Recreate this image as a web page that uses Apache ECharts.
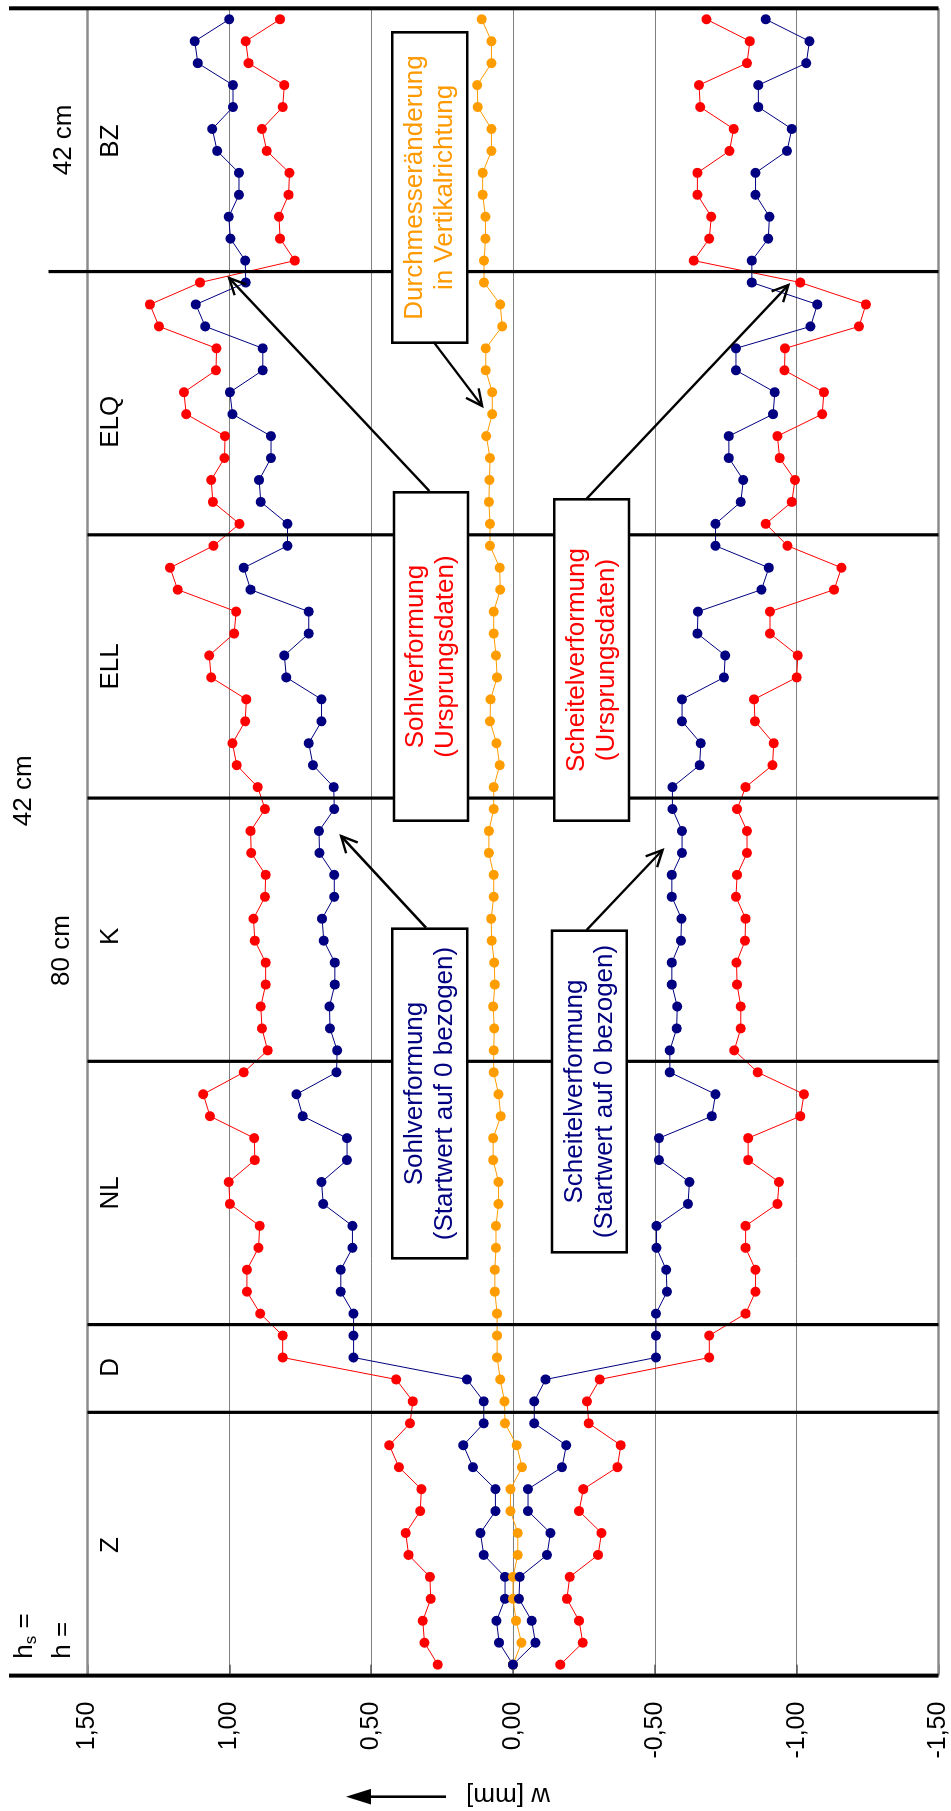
<!DOCTYPE html>
<html><head><meta charset="utf-8">
<script src="https://cdn.jsdelivr.net/npm/echarts@6/dist/echarts.min.js"></script>
<style>
html,body{margin:0;padding:0;background:#fff;overflow:hidden;width:951px;height:1811px;}
#chart{position:absolute;left:0;top:0;width:1811px;height:951px;transform-origin:0 0;transform:translate(0,1811px) rotate(-90deg);}
</style></head><body><div id="chart"></div>
<script>
// ---------- DATA ----------
const sectionNames  = ['Z','D','NL','K','ELL','ELQ','BZ'];
const sectionCounts = [12, 4, 12, 12, 12, 12, 12];
const valueTicks = [-1.5, -1.0, -0.5, 0, 0.5, 1.0, 1.5];

const sohlUrsprung = [0.265,0.312,0.318,0.290,0.293,0.368,0.378,0.327,0.323,0.402,0.436,0.363,
  0.353,0.412,0.812,0.812,
  0.891,0.938,0.938,0.897,0.893,0.998,1.002,0.910,0.912,1.068,1.092,0.949,
  0.865,0.885,0.889,0.872,0.872,0.910,0.915,0.874,0.872,0.923,0.925,0.874,
  0.900,0.974,0.989,0.944,0.940,1.064,1.071,0.983,0.976,1.182,1.209,1.056,
  0.964,1.058,1.064,1.017,1.015,1.152,1.160,1.047,1.045,1.248,1.280,1.103,
  0.769,0.821,0.825,0.791,0.788,0.868,0.885,0.812,0.806,0.932,0.942,0.821];
const sohlBezogen = [0.000,0.049,0.058,0.028,0.028,0.103,0.115,0.062,0.062,0.141,0.175,0.103,
  0.103,0.162,0.562,0.562,
  0.562,0.607,0.607,0.566,0.566,0.669,0.675,0.585,0.585,0.741,0.763,0.622,
  0.620,0.645,0.647,0.628,0.628,0.667,0.673,0.630,0.630,0.682,0.684,0.630,
  0.632,0.705,0.720,0.675,0.675,0.799,0.806,0.720,0.720,0.925,0.949,0.795,
  0.795,0.889,0.895,0.853,0.853,0.989,0.998,0.882,0.882,1.085,1.118,0.942,
  0.944,0.996,1.002,0.966,0.966,1.043,1.060,0.987,0.987,1.111,1.122,1.000];
const durchmesser = [0.000,-0.030,-0.011,0.000,0.000,-0.017,-0.017,0.009,0.009,-0.032,-0.013,0.028,
  0.030,0.045,0.056,0.056,
  0.056,0.064,0.064,0.060,0.060,0.051,0.051,0.070,0.070,0.043,0.051,0.068,
  0.068,0.066,0.070,0.064,0.066,0.075,0.077,0.068,0.068,0.085,0.085,0.068,
  0.068,0.047,0.058,0.081,0.079,0.056,0.060,0.068,0.068,0.045,0.047,0.081,
  0.081,0.085,0.083,0.081,0.094,0.073,0.073,0.096,0.096,0.038,0.045,0.102,
  0.102,0.097,0.097,0.107,0.107,0.076,0.076,0.124,0.126,0.076,0.076,0.110];
const scheitelBezogen = [0.000,-0.079,-0.066,-0.021,-0.024,-0.120,-0.132,-0.053,-0.053,-0.173,-0.188,-0.075,
  -0.075,-0.115,-0.504,-0.504,
  -0.504,-0.543,-0.540,-0.506,-0.506,-0.617,-0.622,-0.515,-0.515,-0.701,-0.714,-0.553,
  -0.553,-0.577,-0.579,-0.560,-0.560,-0.592,-0.594,-0.560,-0.560,-0.596,-0.596,-0.562,
  -0.562,-0.658,-0.662,-0.596,-0.596,-0.744,-0.748,-0.650,-0.652,-0.876,-0.902,-0.714,
  -0.714,-0.803,-0.812,-0.761,-0.761,-0.917,-0.923,-0.786,-0.786,-1.049,-1.073,-0.842,
  -0.842,-0.900,-0.904,-0.855,-0.855,-0.966,-0.983,-0.865,-0.865,-1.034,-1.045,-0.891];
const scheitelUrsprung = [-0.167,-0.246,-0.233,-0.190,-0.200,-0.300,-0.312,-0.233,-0.248,-0.368,-0.380,-0.267,
  -0.261,-0.306,-0.692,-0.692,
  -0.820,-0.855,-0.855,-0.820,-0.820,-0.932,-0.938,-0.829,-0.829,-1.013,-1.026,-0.863,
  -0.780,-0.803,-0.803,-0.790,-0.788,-0.818,-0.820,-0.786,-0.790,-0.825,-0.825,-0.790,
  -0.820,-0.915,-0.919,-0.853,-0.850,-1.000,-1.004,-0.906,-0.906,-1.132,-1.158,-0.968,
  -0.891,-0.983,-0.994,-0.940,-0.932,-1.090,-1.096,-0.957,-0.959,-1.220,-1.244,-1.013,
  -0.637,-0.692,-0.699,-0.650,-0.650,-0.763,-0.778,-0.660,-0.656,-0.825,-0.835,-0.682];

// ---------- BUILD ----------
const FONT = "'Liberation Sans', Arial, sans-serif";
const nPts = sectionCounts.reduce((a,b)=>a+b,0);
const idx = []; for (let k=0;k<nPts;k++) idx.push(k);
const boundaries = [-0.5]; { let c=-0.5; sectionCounts.forEach(n=>{c+=n; boundaries.push(c);}); }
const pairs = arr => arr.map((v,k)=>[idx[k], v]);

const chart = echarts.init(document.getElementById('chart'), null, {renderer:'canvas'});
function mkSeries(name, arr, color){
  return {name, type:'line', data:pairs(arr), symbol:'circle', symbolSize:10,
    lineStyle:{color, width:1}, itemStyle:{color}, z:3, animation:false};
}
chart.setOption({
  animation:false,
  backgroundColor:'#fff',
  grid:{left:135.4, right:8.3, top:87.5, bottom:12.5},
  xAxis:{type:'value', min:boundaries[0], max:boundaries[boundaries.length-1], show:false},
  yAxis:{type:'value', min:valueTicks[0], max:valueTicks[valueTicks.length-1], interval:0.5,
    axisLine:{show:false},
    axisTick:{show:true, length:9, lineStyle:{color:'#555', width:1.5}},
    axisLabel:{fontSize:25, fontFamily:FONT, color:'#000', margin:26,
      formatter: v => v.toFixed(2).replace('.', ',')},
    splitLine:{lineStyle:{color:'#808080', width:1}}},
  series:[
    mkSeries('Sohlverformung (Ursprungsdaten)', sohlUrsprung, '#FF0000'),
    mkSeries('Sohlverformung (Startwert auf 0 bezogen)', sohlBezogen, '#000080'),
    mkSeries('Durchmesseränderung in Vertikalrichtung', durchmesser, '#FF9C00'),
    mkSeries('Scheitelverformung (Startwert auf 0 bezogen)', scheitelBezogen, '#000080'),
    mkSeries('Scheitelverformung (Ursprungsdaten)', scheitelUrsprung, '#FF0000')
  ]
});

// ---------- ANNOTATIONS ----------
const X = i => chart.convertToPixel({xAxisIndex:0}, i);
const Y = v => chart.convertToPixel({yAxisIndex:0}, v);
const vTop = Y(valueTicks[valueTicks.length-1]), vBot = Y(valueTicks[0]);
const els = [];
const mctx = document.createElement('canvas').getContext('2d');
function tw(t, size){ mctx.font = size+'px '+FONT; return mctx.measureText(t).width; }
function txt(x,y,text,size,color,align,valign,rot,extra){
  const st = Object.assign({text, fontSize:size, fontFamily:FONT, fill:color,
     align:align, verticalAlign:valign, textAlign:align, textVerticalAlign:valign}, extra||{});
  return {type:'text', x, y, rotation:rot||0, style:st, z:60};
}
function line(x1,y1,x2,y2,w,c,z){ return {type:'line', shape:{x1,y1,x2,y2}, style:{stroke:c, lineWidth:w}, z:z||1}; }

// section divider lines (extend beyond plot where the reference does)
const divStart = {0: 9, 6: 48.5, 7: 9};
boundaries.forEach((b,k)=>{
  const u = X(b);
  const s = (k in divStart) ? divStart[k] : vTop;
  const w = (k===0 || k===boundaries.length-1) ? 4 : 3.2;
  els.push(line(u, s, u, vBot, w, '#000', 5));
});
// gray plot borders
els.push(line(X(boundaries[0]), vTop, X(boundaries[boundaries.length-1]), vTop, 2.5, '#8c8c8c', 4));
els.push(line(X(boundaries[0]), vBot, X(boundaries[boundaries.length-1]), vBot, 2.5, '#8c8c8c', 4));

// section names
const sectionLabelAt = [5.45, 13.55, 21.5, 33.2, 45.5, 56.65, 69.45];
sectionNames.forEach((n,k)=> els.push(txt(X(sectionLabelAt[k]), 111, n, 26, '#000', 'center', 'middle')));

// height labels
els.push(txt(X(69.5), 63.7, '42 cm', 26, '#000', 'center', 'middle'));
els.push(txt(X(39.83), 23.5, '42 cm', 26, '#000', 'center', 'middle'));
els.push(txt(X(32.55), 62, '80 cm', 26, '#000', 'center', 'middle'));
// h_s = / h =
{
  const u0 = X(0) + 6;
  const hw = tw('h', 26);
  els.push(txt(u0, 25, 'h', 26, '#000', 'left', 'middle'));
  els.push(txt(u0+hw, 31, 's', 17, '#000', 'left', 'middle'));
  els.push(txt(u0+hw+tw('s',17), 25, ' =', 26, '#000', 'left', 'middle'));
  els.push(txt(u0, 62.5, 'h =', 26, '#000', 'left', 'middle'));
}

// annotation boxes [uMin, vMin, uMax, vMax, text, color]
const boxes = [
  [1468.3, 392.3, 1778.7, 467.3, 'Durchmesseränderung\nin Vertikalrichtung', '#FF9900'],
  [990.3, 394.0, 1318.7, 468.0, 'Sohlverformung\n(Ursprungsdaten)', '#FF0000'],
  [990.3, 554.3, 1311.7, 629.0, 'Scheitelverformung\n(Ursprungsdaten)', '#FF0000'],
  [552.7, 392.3, 882.3, 467.3, 'Sohlverformung\n(Startwert auf 0 bezogen)', '#000080'],
  [558.7, 552.0, 880.3, 626.7, 'Scheitelverformung\n(Startwert auf 0 bezogen)', '#000080']
];
boxes.forEach(b=>{
  els.push({type:'rect', shape:{x:b[0], y:b[1], width:b[2]-b[0], height:b[3]-b[1]},
    style:{fill:'#fff', stroke:'#000', lineWidth:2.6}, z:40});
  els.push(txt((b[0]+b[2])/2, (b[1]+b[3])/2, b[4], 26, b[5], 'center', 'middle', 0, {lineHeight:30}));
});

// arrows [uStart, vStart, uTip, vTip]
const arrows = [
  [1469, 433.6, 1405, 482.1],
  [1320, 429.3, 1533, 229.2],
  [1312, 586.4, 1526, 788.4],
  [883.3, 426.0, 975, 341],
  [881, 586.7, 961, 662.5]
];
arrows.forEach(a=>{
  const dx=a[2]-a[0], dy=a[3]-a[1], L=Math.hypot(dx,dy), ux=dx/L, uy=dy/L;
  const head=18, th=26*Math.PI/180;
  const p1=[a[2]-head*(ux*Math.cos(th)-uy*Math.sin(th)), a[3]-head*(uy*Math.cos(th)+ux*Math.sin(th))];
  const p2=[a[2]-head*(ux*Math.cos(th)+uy*Math.sin(th)), a[3]-head*(uy*Math.cos(th)-ux*Math.sin(th))];
  els.push(line(a[0],a[1],a[2],a[3],2.4,'#000',45));
  els.push({type:'polyline', shape:{points:[p1,[a[2],a[3]],p2]}, style:{stroke:'#000', lineWidth:2.4, fill:null}, z:45});
});

// axis title with arrow
els.push(txt(16, 508, 'w [mm]', 26, '#000', 'center', 'middle', Math.PI/2));
els.push(line(14.3, 446, 14.3, 368, 2.6, '#000', 45));
els.push({type:'polygon', shape:{points:[[14.3,346],[6.5,371],[22.1,371]]}, style:{fill:'#000'}, z:45});

chart.setOption({graphic:{elements:els}});
</script></body></html>
